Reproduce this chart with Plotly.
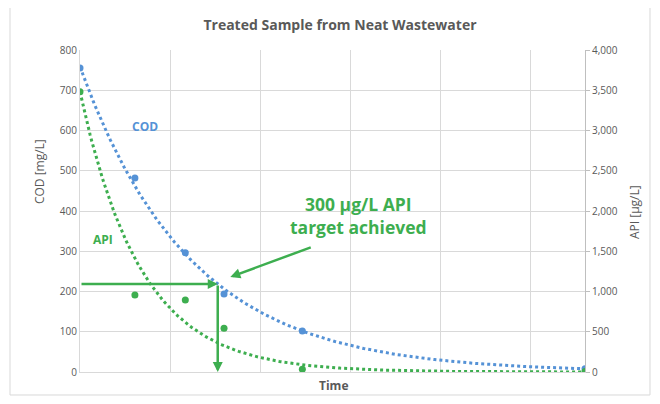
import numpy as np
import plotly.graph_objects as go

# ---- data ----
time_pts = [0, 6.1, 11.7, 16.0, 24.7, 56.1]
cod_vals = [755, 482, 296, 194, 102, 8]          # mg/L (left axis)
api_vals = [3480, 957, 895, 545, 35, 5]           # µg/L (right axis)

# exponential trendline coefficients for API (as drawn in the reference)
api_trend_a = 3480
api_trend_k = 0.148

target_api = 300        # µg/L
target_time = 15.3      # time at which the target is reached

y_ticks_left = list(range(0, 801, 100))
y_ticks_right = list(range(0, 4001, 500))

BLUE = "#5592D6"
GREEN = "#3DAE4F"
GRID = "#D9D9D9"
TXT = "#595959"
FONT = "Open Sans"

# COD exponential trendline fitted to the data (Excel-style log-linear fit)
slope, intercept = np.polyfit(time_pts, np.log(cod_vals), 1)
t_line = np.linspace(time_pts[0], time_pts[-1], 300)
cod_trend = np.exp(intercept) * np.exp(slope * t_line)
api_trend = api_trend_a * np.exp(-api_trend_k * t_line)
cod_at_target = float(np.exp(intercept) * np.exp(slope * target_time))

fig = go.Figure()
fig.add_trace(go.Scatter(x=t_line, y=cod_trend, mode="lines",
                         line=dict(color=BLUE, width=3, dash="dot"),
                         hoverinfo="skip", showlegend=False))
fig.add_trace(go.Scatter(x=t_line, y=api_trend, mode="lines", yaxis="y2",
                         line=dict(color=GREEN, width=3, dash="dot"),
                         hoverinfo="skip", showlegend=False))
fig.add_trace(go.Scatter(x=time_pts, y=cod_vals, mode="markers", name="COD",
                         marker=dict(color=BLUE, size=7), showlegend=False))
fig.add_trace(go.Scatter(x=time_pts, y=api_vals, mode="markers", name="API", yaxis="y2",
                         marker=dict(color=GREEN, size=7), showlegend=False))

annotations = [
    # horizontal and vertical target lines
    dict(x=target_time, y=cod_at_target, ax=0, ay=cod_at_target, xref="x", yref="y",
         axref="x", ayref="y", showarrow=True, arrowhead=2, arrowsize=0.8,
         arrowwidth=2.5, arrowcolor=GREEN, text=""),
    dict(x=target_time, y=0, ax=target_time, ay=cod_at_target, xref="x", yref="y",
         axref="x", ayref="y", showarrow=True, arrowhead=2, arrowsize=0.8,
         arrowwidth=2.5, arrowcolor=GREEN, text=""),
    # pointer arrow
    dict(x=16.7, y=236, ax=25.8, ay=311, xref="x", yref="y", axref="x", ayref="y",
         showarrow=True, arrowhead=2, arrowsize=0.8, arrowwidth=2.5,
         arrowcolor=GREEN, text=""),
    dict(x=30.9, y=388, xref="x", yref="y", showarrow=False,
         text=f"<b>{target_api} µg/L API<br>target achieved</b>",
         font=dict(family=FONT, size=17.5, color=GREEN), align="center"),
    dict(x=7.2, y=611, xref="x", yref="y", showarrow=False, text="<b>COD</b>",
         font=dict(family=FONT, size=12, color=BLUE)),
    dict(x=2.5, y=330, xref="x", yref="y", showarrow=False, text="<b>API</b>",
         font=dict(family=FONT, size=12, color=GREEN)),
    # axis titles
    dict(x=-0.102, y=0.624, xref="paper", yref="paper", showarrow=False,
         text="COD [mg/L]", textangle=-90, font=dict(family=FONT, size=12, color=TXT)),
    dict(x=1.12, y=0.497, xref="paper", yref="paper", showarrow=False,
         text="API [µg/L]", textangle=-90, font=dict(family=FONT, size=12, color=TXT)),
    dict(x=0.501, y=-0.042, xref="paper", yref="paper", showarrow=False,
         xanchor="center", yanchor="middle",
         text="<b>Time</b>", font=dict(family=FONT, size=12, color=TXT)),
]

fig.update_layout(
    width=660, height=404,
    margin=dict(l=72, r=83, t=42, b=40),
    paper_bgcolor="white", plot_bgcolor="white",
    title=dict(text="<b>Treated Sample from Neat Wastewater</b>", x=0.503, y=0.958,
               xanchor="center", yanchor="middle",
               font=dict(family=FONT, size=14, color=TXT)),
    xaxis=dict(range=[0, time_pts[-1]], dtick=10, showticklabels=False,
               showgrid=True, gridcolor=GRID, gridwidth=1, zeroline=False,
               showline=True, linecolor=GRID, linewidth=1),
    yaxis=dict(range=[0, 800], tickvals=y_ticks_left, showgrid=True, gridcolor=GRID,
               zeroline=False, showline=True, linecolor=GRID,
               tickfont=dict(family=FONT, size=10, color=TXT), ticks="", ticklen=0),
    yaxis2=dict(range=[0, 4000], tickvals=y_ticks_right, overlaying="y", side="right",
                tickformat=",", showgrid=False, zeroline=False, showline=True,
                linecolor="#BFBFBF", ticks="outside", ticklen=4, tickcolor="#BFBFBF",
                tickfont=dict(family=FONT, size=10, color=TXT)),
    annotations=annotations,
    shapes=[dict(type="rect", xref="paper", yref="paper",
                 x0=-0.1386, x1=1.1287, y0=-0.0714, y1=1.1366,
                 line=dict(color=GRID, width=1), fillcolor="rgba(0,0,0,0)", layer="below")],
)

fig.write_html("out.html")
